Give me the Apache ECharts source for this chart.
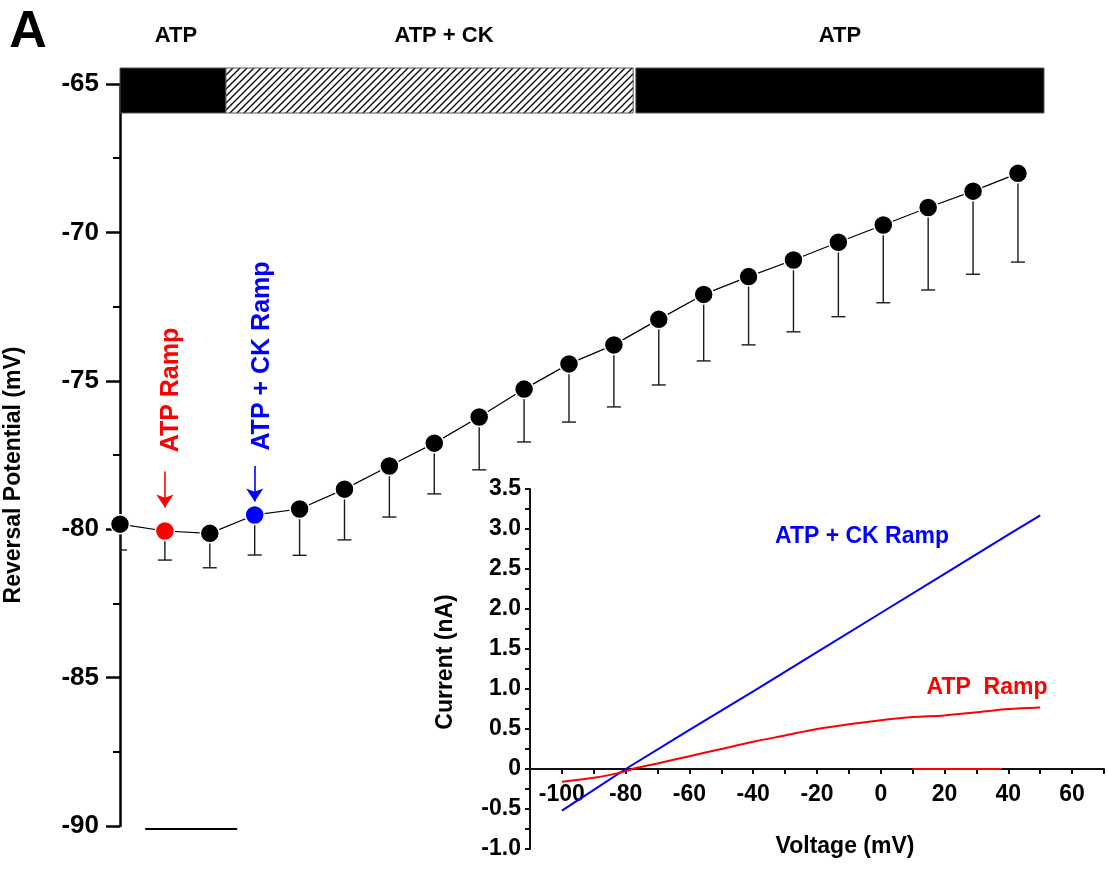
<!DOCTYPE html>
<html>
<head>
<meta charset="utf-8">
<script src="https://cdn.jsdelivr.net/npm/echarts@6/dist/echarts.min.js"></script>
<style>
  html, body { margin: 0; padding: 0; background: #fff; }
  #chart { width: 1108px; height: 871px; }
</style>
</head>
<body>
<div id="chart"></div>
<script>
// ---- reversal potential per sweep (mean, downward SEM) ----
const sweepIndex = [0, 1, 2, 3, 4, 5, 6, 7, 8, 9, 10, 11, 12, 13, 14, 15, 16, 17, 18, 19, 20];
const reversalMean = [-79.83, -80.06, -80.14, -79.52, -79.32, -78.65, -77.87, -77.10, -76.22, -75.28,
                      -74.43, -73.79, -72.93, -72.09, -71.49, -70.93, -70.33, -69.75, -69.16, -68.61, -68.01];
const reversalSem = [0.87, 0.98, 1.16, 1.35, 1.56, 1.71, 1.72, 1.71, 1.78, 1.78,
                     1.96, 2.09, 2.21, 2.24, 2.30, 2.42, 2.51, 2.62, 2.78, 2.80, 2.99];

// sweeps whose I-V ramps are shown in the inset
const atpRampSweep = 1;
const ckRampSweep = 3;
// annotation arrows: [sweep, arrow start, arrow tip] in mV
const rampArrows = [[1, -78.06, -79.27], [3, -77.87, -79.07]];

// ---- solution phases along the sweep axis ----
const phaseNames = ['ATP', 'ATP + CK', 'ATP'];
const phaseStart = [0, 2.36, 11.49];
const phaseEnd = [2.36, 11.43, 20.58];
const phaseHatched = [false, true, false];

// time scale bar (sweep units) drawn below the plot
const scaleBar = [[0.56, -90.1], [2.61, -90.1]];

// ---- inset: ramp I-V relations ----
const ckRampVoltage = [-100, -90, -80, -60, -40, -20, 0, 20, 40, 50];
const ckRampCurrent = [-0.52, -0.26, 0, 0.49, 0.97, 1.46, 1.95, 2.44, 2.93, 3.17];
const atpRampVoltage = [-100, -90, -80, -78, -70, -60, -50, -40, -30, -20, -10, 0, 10, 20, 30, 40, 50];
const atpRampCurrent = [-0.16, -0.11, -0.03, 0, 0.07, 0.16, 0.25, 0.34, 0.42, 0.50, 0.56, 0.61, 0.65, 0.67, 0.71, 0.75, 0.77];
const atpBaselineVoltage = [10, 38];
const atpBaselineCurrent = [0, 0];

const FONT = '"Liberation Sans", Arial, Helvetica, sans-serif';
const RED = '#ff0000';
const BLUE = '#0000ff';

// inset frame and current range
const INSET = { left: 530, top: 489, width: 574, height: 360 };
const CUR_MIN = -1, CUR_MAX = 3.5;
// the voltage axis sits on the zero-current line
const zeroOffset = -INSET.height * (0 - CUR_MIN) / (CUR_MAX - CUR_MIN);

function zip(a, b) { return a.map((v, i) => [v, b[i]]); }

// diagonal hatch tile for the ATP + CK phase bar
function hatchPattern() {
  const s = 7;
  const c = document.createElement('canvas');
  c.width = s; c.height = s;
  const g = c.getContext('2d');
  g.fillStyle = '#fff';
  g.fillRect(0, 0, s, s);
  g.strokeStyle = '#000';
  g.lineWidth = 1.3;
  g.beginPath();
  g.moveTo(-1, s + 1); g.lineTo(s + 1, -1);
  g.moveTo(-1, 1); g.lineTo(1, -1);
  g.moveTo(s - 1, s + 1); g.lineTo(s + 1, s - 1);
  g.stroke();
  return { image: c, repeat: 'repeat' };
}
const hatch = hatchPattern();

function txt(text, x, y, size, color, rotation) {
  return {
    type: 'text', x: x, y: y, rotation: rotation || 0, silent: true, z: 50,
    style: {
      text: text, fill: color || '#000',
      font: 'bold ' + size + 'px ' + FONT,
      align: 'center', verticalAlign: 'middle',
      textAlign: 'center', textVerticalAlign: 'middle'
    }
  };
}

const chart = echarts.init(document.getElementById('chart'), null, { renderer: 'canvas' });

const option = {
  animation: false,
  backgroundColor: '#fff',
  grid: [
    { left: 120, top: 84, width: 924, height: 742, containLabel: false, outerBoundsMode: 'none' },
    { left: INSET.left, top: INSET.top, width: INSET.width, height: INSET.height, containLabel: false, outerBoundsMode: 'none' }
  ],
  xAxis: [
    { gridIndex: 0, type: 'value', min: 0, max: 20.58, show: false },
    {
      gridIndex: 1, type: 'value', min: -110, max: 70, interval: 10,
      position: 'bottom', offset: zeroOffset,
      axisLine: { onZero: false, lineStyle: { color: '#111', width: 2 } },
      axisTick: { length: 5, lineStyle: { color: '#111', width: 2 } },
      splitLine: { show: false },
      axisLabel: {
        margin: 14, color: '#000', fontSize: 23, fontWeight: 'bold', fontFamily: FONT,
        formatter: v => (v % 20 === 0 ? String(v) : '')
      }
    }
  ],
  yAxis: [
    {
      gridIndex: 0, type: 'value', min: -90, max: -65, interval: 5,
      axisLine: { show: true, lineStyle: { color: '#000', width: 2.5 } },
      axisTick: { show: true, length: 14, lineStyle: { color: '#000', width: 2.5 } },
      minorTick: { show: true, splitNumber: 2, length: 7, lineStyle: { color: '#000', width: 2 } },
      splitLine: { show: false },
      axisLabel: { margin: 21, color: '#000', fontSize: 26, fontWeight: 'bold', fontFamily: FONT }
    },
    {
      gridIndex: 1, type: 'value', min: CUR_MIN, max: CUR_MAX, interval: 0.25,
      axisLine: { show: true, onZero: false, lineStyle: { color: '#111', width: 2 } },
      axisTick: { show: true, length: 5, lineStyle: { color: '#111', width: 2 } },
      splitLine: { show: false },
      axisLabel: {
        margin: 9, color: '#000', fontSize: 23, fontWeight: 'bold', fontFamily: FONT,
        formatter: v => {
          if (Math.abs(v * 2 - Math.round(v * 2)) > 1e-6) return '';
          return Math.abs(v) < 1e-9 ? '0' : v.toFixed(1);
        }
      }
    }
  ],
  series: [
    // downward SEM bars
    {
      type: 'custom', xAxisIndex: 0, yAxisIndex: 0, z: 1, silent: true, clip: true,
      data: sweepIndex.map((x, i) => [x, reversalMean[i], reversalMean[i] - reversalSem[i]]),
      renderItem: (params, api) => {
        const top = api.coord([api.value(0), api.value(1)]);
        const bot = api.coord([api.value(0), api.value(2)]);
        const st = { stroke: '#1a1a1a', lineWidth: 1.4 };
        return {
          type: 'group', children: [
            { type: 'line', shape: { x1: top[0], y1: top[1], x2: bot[0], y2: bot[1] }, style: st },
            { type: 'line', shape: { x1: bot[0] - 7, y1: bot[1], x2: bot[0] + 7, y2: bot[1] }, style: st }
          ]
        };
      }
    },
    // mean reversal potential
    {
      type: 'line', xAxisIndex: 0, yAxisIndex: 0, z: 3, silent: true,
      data: sweepIndex.map((x, i) => ({
        value: [x, reversalMean[i]],
        itemStyle: { color: i === atpRampSweep ? RED : (i === ckRampSweep ? BLUE : '#000') }
      })),
      symbol: 'circle', symbolSize: 19,
      itemStyle: { borderColor: '#fff', borderWidth: 1.5 },
      lineStyle: { color: '#000', width: 1.2 },
      markLine: {
        silent: true, animation: false,
        symbol: ['none', 'arrow'], symbolSize: 13,
        label: { show: false },
        data: rampArrows.map(a => [
          { coord: [a[0], a[1]], lineStyle: { color: a[0] === atpRampSweep ? RED : BLUE, width: 1.6, type: 'solid' } },
          { coord: [a[0], a[2]] }
        ])
      }
    },
    // solution phase bars
    {
      type: 'custom', xAxisIndex: 0, yAxisIndex: 0, z: 5, silent: true, clip: false,
      data: phaseNames.map((n, i) => [phaseStart[i], -65, phaseEnd[i], i]),
      encode: { x: [0, 2], y: 1 },
      renderItem: (params, api) => {
        const a = api.coord([api.value(0), api.value(1)]);
        const b = api.coord([api.value(2), api.value(1)]);
        const hatched = phaseHatched[api.value(3)];
        return {
          type: 'rect',
          shape: { x: a[0], y: a[1] - 16, width: b[0] - a[0], height: 45 },
          style: { fill: hatched ? hatch : '#000', stroke: '#555', lineWidth: 1 }
        };
      }
    },
    // time scale bar
    {
      type: 'line', xAxisIndex: 0, yAxisIndex: 0, silent: true, clip: false,
      data: scaleBar, symbol: 'none',
      lineStyle: { color: '#000', width: 2 }
    },
    // inset: ATP + CK ramp
    {
      type: 'line', xAxisIndex: 1, yAxisIndex: 1, silent: true, z: 4,
      data: zip(ckRampVoltage, ckRampCurrent), symbol: 'none',
      lineStyle: { color: BLUE, width: 2 }
    },
    // inset: ATP ramp
    {
      type: 'line', xAxisIndex: 1, yAxisIndex: 1, silent: true, z: 4, smooth: 0.3,
      data: zip(atpRampVoltage, atpRampCurrent), symbol: 'none',
      lineStyle: { color: RED, width: 2 }
    },
    {
      type: 'line', xAxisIndex: 1, yAxisIndex: 1, silent: true, z: 4,
      data: zip(atpBaselineVoltage, atpBaselineCurrent), symbol: 'none',
      lineStyle: { color: RED, width: 2 }
    }
  ],
  graphic: [
    txt('A', 28, 33, 52),
    txt(phaseNames[0], 176, 36, 22),
    txt(phaseNames[1], 444, 36, 22),
    txt(phaseNames[2], 840, 36, 22),
    txt('Reversal Potential (mV)', 14, 475, 23, '#000', Math.PI / 2),
    txt('ATP Ramp', 171, 390, 25, RED, Math.PI / 2),
    txt('ATP + CK Ramp', 262, 356, 25, BLUE, Math.PI / 2),
    txt('Current (nA)', 446, 662, 23, '#000', Math.PI / 2),
    txt('Voltage (mV)', 845, 847, 23),
    txt('ATP + CK Ramp', 862, 537, 23, BLUE),
    txt('ATP  Ramp', 987, 688, 23, RED)
  ]
};

chart.setOption(option);
</script>
</body>
</html>
